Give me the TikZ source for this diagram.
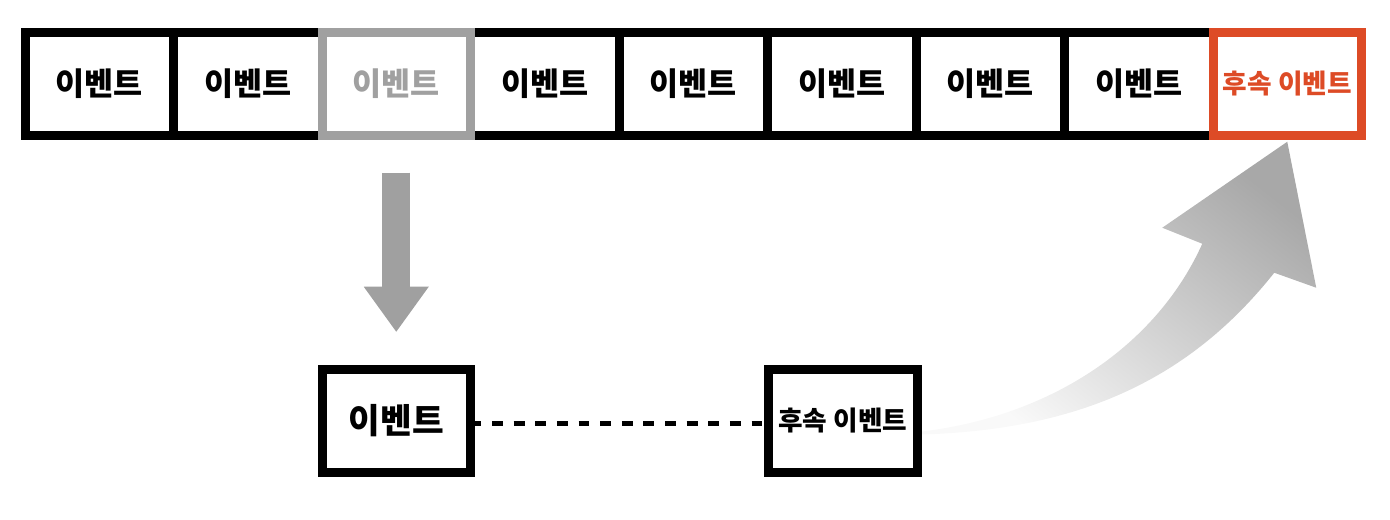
\documentclass[tikz,border=0pt]{standalone}
\usepackage{fontspec}
\setmainfont{Noto Sans CJK KR}
\usetikzlibrary{arrows.meta,positioning,calc}
\definecolor{evgray}{HTML}{A0A0A0}
\definecolor{evorange}{HTML}{DD4B26}
\tikzset{
  evbox/.style={draw,line width=0.18cm,minimum width=2.97cm,minimum height=2.05cm,
    outer sep=0pt,inner sep=0pt,font=\fontsize{18}{22}\selectfont\bfseries},
  evsmall/.style={font=\fontsize{15.2}{18}\selectfont\bfseries}
}
\begin{document}
\begin{tikzpicture}
\useasboundingbox (0,0) rectangle (27.8,10.4);
% event stream
\node[evbox] (e1) at (1.985,8.72) {이벤트};
\node[evbox,right=0cm of e1] (e2) {이벤트};
\node[evbox,right=2.97cm of e2] (e4) {이벤트};
\node[evbox,right=0cm of e4] (e5) {이벤트};
\node[evbox,right=0cm of e5] (e6) {이벤트};
\node[evbox,right=0cm of e6] (e7) {이벤트};
\node[evbox,right=0cm of e7] (e8) {이벤트};
\node[evbox,right=0cm of e2,draw=evgray,text=evgray] (e3) {이벤트};
\node[evbox,evsmall,right=0cm of e8,draw=evorange,text=evorange] (e9) {후속 이벤트};
% picked event and its follower
\node[evbox,below=4.69cm of e3,font=\fontsize{19.6}{23}\selectfont\bfseries] (b1) {이벤트};
\node[evbox,evsmall,right=5.96cm of b1] (b2) {후속 이벤트};
\draw[line width=0.1cm,dash pattern=on 6.2pt off 6.1pt] ([yshift=-0.06cm]b1.east) -- ([yshift=-0.06cm]b2.west);
\draw[evgray,line width=0.56cm,-{Triangle[width=1.3cm,length=0.9cm,line width=0pt]}]
  ($(e3.south)+(0,-0.75)$) -- ($(b1.north)+(0,0.76)$);
% curved arrow back into the stream
\coordinate (tip) at ($(e9.south)+(0,-0.13)$);
\coordinate (tail) at ($(b2.east)+(0.1,-0.21)$);
\shade[top color=evgray!92, bottom color=evgray!6, shading angle=-38]
  (tail) .. controls ($(tip)+(-4.56,-5.46)$) and ($(tip)+(-2.56,-3.96)$) .. ($(tip)+(-1.7,-2.04)$)
  -- ($(tip)+(-2.5,-1.72)$) -- (tip) -- ($(tip)+(0.58,-2.92)$) -- ($(tip)+(-0.26,-2.62)$)
  .. controls ($(tip)+(-1.96,-4.76)$) and ($(tip)+(-4.16,-5.76)$) .. ([yshift=-0.06cm]tail) -- cycle;
\end{tikzpicture}
\end{document}
